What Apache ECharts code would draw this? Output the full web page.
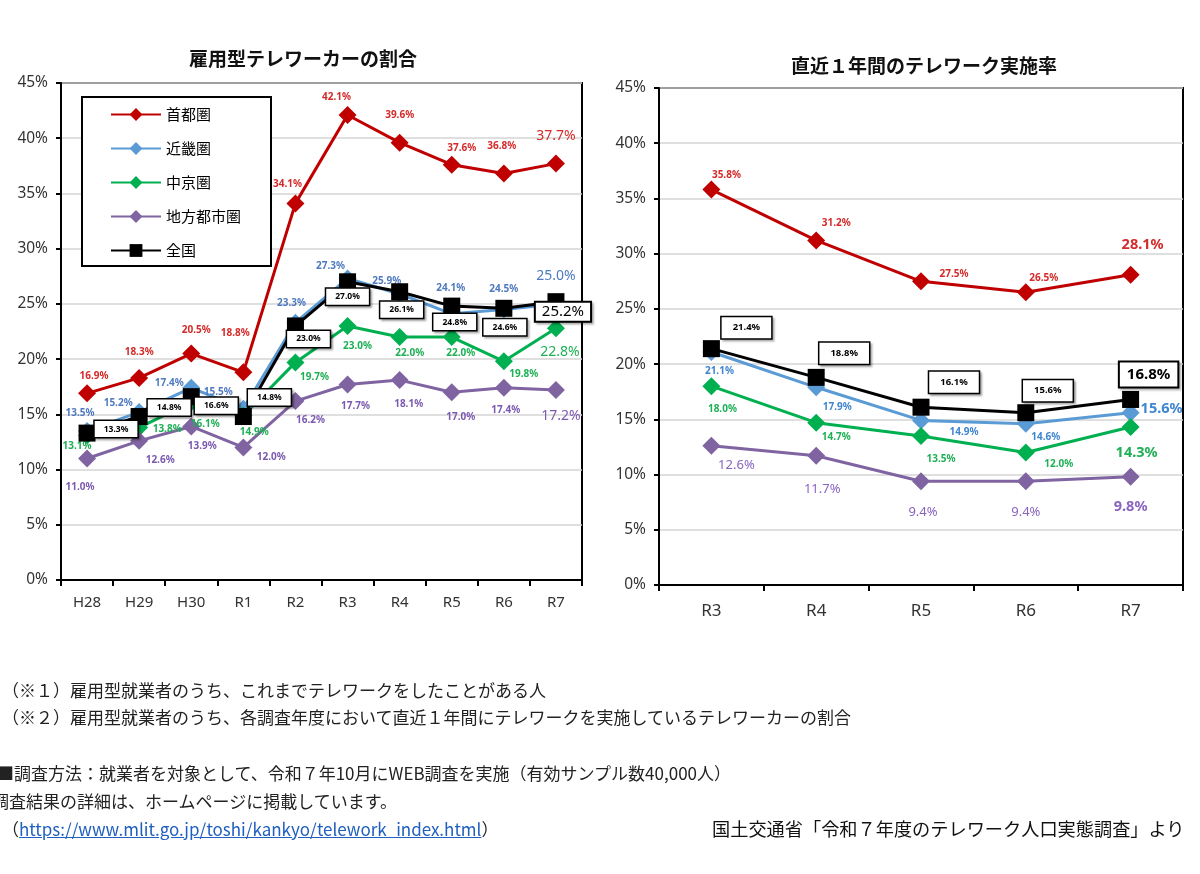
<!DOCTYPE html>
<html>
<head>
<meta charset="utf-8">
<script src="https://cdn.jsdelivr.net/npm/echarts@6/dist/echarts.min.js"></script>
<style>
  html, body { margin: 0; padding: 0; background: #fff; }
  #wrap { position: relative; width: 1200px; height: 874px; overflow: hidden; }
  #chart { position: absolute; left: 0; top: 0; width: 1200px; height: 874px; }
  .note { position: absolute; font-family: "Noto Sans CJK JP", sans-serif; font-size: 17px; color: #222; white-space: nowrap; line-height: 20px; }
  .note a { color: #1f5fbf; text-decoration: underline; }
</style>
</head>
<body>
<div id="wrap">
  <div id="chart"></div>
  <div class="note" style="left:2px; top:680px;">（※１）雇用型就業者のうち、これまでテレワークをしたことがある人</div>
  <div class="note" style="left:2px; top:707px;">（※２）雇用型就業者のうち、各調査年度において直近１年間にテレワークを実施しているテレワーカーの割合</div>
  <div class="note" style="left:-3px; top:763px;">■調査方法：就業者を対象として、令和７年10月にWEB調査を実施（有効サンプル数40,000人）</div>
  <div class="note" style="left:-8px; top:791px;">調査結果の詳細は、ホームページに掲載しています。</div>
  <div class="note" style="left:2px; top:819px;">（<a>https://www.mlit.go.jp/toshi/kankyo/telework_index.html</a>）</div>
  <div class="note" style="left:712px; top:818px; font-size:18.2px; color:#111;">国土交通省「令和７年度のテレワーク人口実態調査」より</div>
</div>
<script>
// カテゴリ
const leftCategories = ['H28', 'H29', 'H30', 'R1', 'R2', 'R3', 'R4', 'R5', 'R6', 'R7'];
const rightCategories = ['R3', 'R4', 'R5', 'R6', 'R7'];
const yTicks = [0, 5, 10, 15, 20, 25, 30, 35, 40, 45];

// 雇用型テレワーカーの割合 (%)
const shutoLeft  = [16.9, 18.3, 20.5, 18.8, 34.1, 42.1, 39.6, 37.6, 36.8, 37.7];
const kinkiLeft  = [13.5, 15.2, 17.4, 15.5, 23.3, 27.3, 25.9, 24.1, 24.5, 25.0];
const chukyoLeft = [13.1, 13.8, 16.1, 14.9, 19.7, 23.0, 22.0, 22.0, 19.8, 22.8];
const chihoLeft  = [11.0, 12.6, 13.9, 12.0, 16.2, 17.7, 18.1, 17.0, 17.4, 17.2];
const zenkokuLeft = [13.3, 14.8, 16.6, 14.8, 23.0, 27.0, 26.1, 24.8, 24.6, 25.2];

// 直近１年間のテレワーク実施率 (%)
const shutoRight  = [35.8, 31.2, 27.5, 26.5, 28.1];
const kinkiRight  = [21.1, 17.9, 14.9, 14.6, 15.6];
const chukyoRight = [18.0, 14.7, 13.5, 12.0, 14.3];
const chihoRight  = [12.6, 11.7, 9.4, 9.4, 9.8];
const zenkokuRight = [21.4, 18.8, 16.1, 15.6, 16.8];

const RED = '#C00000';
const BLUE = '#5B9BD5';
const GREEN = '#00B050';
const PURPLE = '#8064A2';
const BLACK = '#000000';

// ラベル位置（点からのずれ）
const offL = {
  shuto:   [[7,-17],[0,-26],[5,-23],[-8,-39],[-8,-19],[-11,-18],[0,-27],[10,-17],[-2,-27],[0,-28]],
  kinki:   [[-7,-18],[-21,-9],[-22,-5],[-25,-17],[-4,-20],[-17,-12],[-13,-13],[-1,-26],[0,-20],[0,-28]],
  chukyo:  [[-10,11],[28,2],[14,22],[11,17],[19,15],[10,20],[10,16],[9,16],[20,13],[4,24]],
  chiho:   [[-7,29],[21,19],[11,20],[28,10],[15,19],[8,22],[9,24],[9,25],[2,22],[5,26]],
  zenkoku: [[29,-4],[30,-9],[25,9],[26,-19],[13,13],[0,15],[2,18],[3,16],[1,19],[7,10]]
};
const offR = {
  shuto:   [[15,-14],[20,-17],[33,-7],[18,-14],[12,-30]],
  kinki:   [[8,19],[21,20],[43,12],[20,13],[31,-4]],
  chukyo:  [[11,23],[20,15],[20,23],[33,12],[6,26]],
  chiho:   [[25,19],[6,34],[2,31],[0,31],[0,30]],
  zenkoku: [[35,-21],[28,-24],[33,-25],[22,-22],[18,-25]]
};

const FONT = '"Noto Sans", "Liberation Sans", sans-serif';

function fmt(p) { return p.value.toFixed(1) + '%'; }

function buildData(values, offsets, bigStyle) {
  return values.map(function (v, i) {
    var lab = { offset: offsets[i] };
    if (i === values.length - 1) Object.assign(lab, bigStyle);
    return { value: v, label: lab };
  });
}

function lineSeries(name, idx, values, offsets, color, textColor, opt) {
  opt = opt || {};
  var boxed = !!opt.boxed;
  var baseLabel = {
    show: true,
    position: 'inside',
    align: 'center',
    verticalAlign: 'middle',
    formatter: fmt,
    color: textColor,
    fontFamily: FONT,
    fontSize: opt.fontSize || 10,
    fontWeight: opt.fontWeight || 'bold'
  };
  if (boxed) {
    Object.assign(baseLabel, {
      color: '#000',
      backgroundColor: '#fff',
      borderColor: '#000',
      borderWidth: 1.5,
      padding: opt.padding,
      shadowColor: 'rgba(0,0,0,0.25)',
      shadowOffsetX: 2,
      shadowOffsetY: 2,
      shadowBlur: 2
    });
  }
  var bigStyle = opt.big || { fontSize: 14, fontWeight: 'normal' };
  return {
    name: name,
    type: 'line',
    xAxisIndex: idx,
    yAxisIndex: idx,
    data: buildData(values, offsets, bigStyle),
    symbol: boxed ? 'rect' : 'diamond',
    symbolSize: boxed ? 17 : 18,
    showAllSymbol: true,
    clip: false,
    lineStyle: { color: color, width: 3 },
    itemStyle: { color: color },
    label: baseLabel,
    z: opt.z || 2,
    animation: false
  };
}

function yAxisCfg(idx) {
  return {
    type: 'value', gridIndex: idx, min: 0, max: 45, interval: 5,
    axisLine: { show: true, lineStyle: { color: '#000', width: 2 } },
    axisTick: { show: true, length: 5, lineStyle: { color: '#000', width: 2 } },
    axisLabel: { formatter: '{value}%', color: '#333', fontFamily: FONT, fontSize: 15.5, margin: 13 },
    splitLine: { lineStyle: { color: '#d4d4d4', width: 1.5 } }
  };
}

function xAxisCfg(idx, cats, margin, fs) {
  return {
    type: 'category', gridIndex: idx, data: cats, boundaryGap: true,
    axisLine: { lineStyle: { color: '#000', width: 2 } },
    axisTick: { show: true, length: 6, lineStyle: { color: '#000', width: 2 } },
    axisLabel: { color: '#333', fontFamily: FONT, fontSize: fs, margin: margin }
  };
}

const bigRight = { fontSize: 14.5, fontWeight: 'bold' };

var chart = echarts.init(document.getElementById('chart'));
chart.setOption({
  animation: false,
  backgroundColor: '#fff',
  graphic: [
    { type: 'text', left: 189, top: 49, style: { text: '雇用型テレワーカーの割合', font: 'bold 19px "Noto Sans CJK JP"', fill: '#111' } },
    { type: 'text', left: 791, top: 56, style: { text: '直近１年間のテレワーク実施率', font: 'bold 19px "Noto Sans CJK JP"', fill: '#111' } }
  ],
  legend: {
    left: 82, top: 97,
    orient: 'vertical',
    data: ['首都圏', '近畿圏', '中京圏', '地方都市圏', '全国'],
    itemWidth: 50, itemHeight: 16, itemGap: 19,
    padding: [10, 30, 8, 28],
    borderColor: '#000', borderWidth: 2,
    backgroundColor: '#fff',
    textStyle: { fontFamily: '"Noto Sans CJK JP"', fontSize: 15, color: '#000' },
    selectedMode: false
  },
  grid: [
    { left: 61, right: 618, top: 83, bottom: 294, show: true, borderColor: '#000', borderWidth: 2 },
    { left: 659, right: 17, top: 88, bottom: 289, show: true, borderColor: '#000', borderWidth: 2 }
  ],
  xAxis: [xAxisCfg(0, leftCategories, 15, 15), xAxisCfg(1, rightCategories, 18, 17)],
  yAxis: [yAxisCfg(0), yAxisCfg(1)],
  series: [
    lineSeries('首都圏', 0, shutoLeft, offL.shuto, RED, '#D42A2A'),
    lineSeries('近畿圏', 0, kinkiLeft, offL.kinki, BLUE, '#4F7AC0'),
    lineSeries('中京圏', 0, chukyoLeft, offL.chukyo, GREEN, '#1DB055'),
    lineSeries('地方都市圏', 0, chihoLeft, offL.chiho, PURPLE, '#7B59B0'),
    lineSeries('全国', 0, zenkokuLeft, offL.zenkoku, BLACK, '#000', {
      boxed: true, fontSize: 8.5, z: 4, padding: [4, 9, 3, 9],
      big: { fontSize: 15, fontWeight: 'normal', padding: [2, 6, 1, 6], borderWidth: 2 }
    }),
    lineSeries('首都圏', 1, shutoRight, offR.shuto, RED, '#D42A2A', { big: bigRight }),
    lineSeries('近畿圏', 1, kinkiRight, offR.kinki, BLUE, '#3F86D0', { big: bigRight }),
    lineSeries('中京圏', 1, chukyoRight, offR.chukyo, GREEN, '#1DB055', { big: bigRight }),
    lineSeries('地方都市圏', 1, chihoRight, offR.chiho, PURPLE, '#8A63BF', { fontSize: 13, fontWeight: 'normal', big: bigRight }),
    lineSeries('全国', 1, zenkokuRight, offR.zenkoku, BLACK, '#000', {
      boxed: true, fontSize: 9.5, z: 4, padding: [6, 11, 5, 11],
      big: { fontSize: 15, fontWeight: 'bold', padding: [5, 7, 4, 7], borderWidth: 2 }
    })
  ]
});
</script>
</body>
</html>
